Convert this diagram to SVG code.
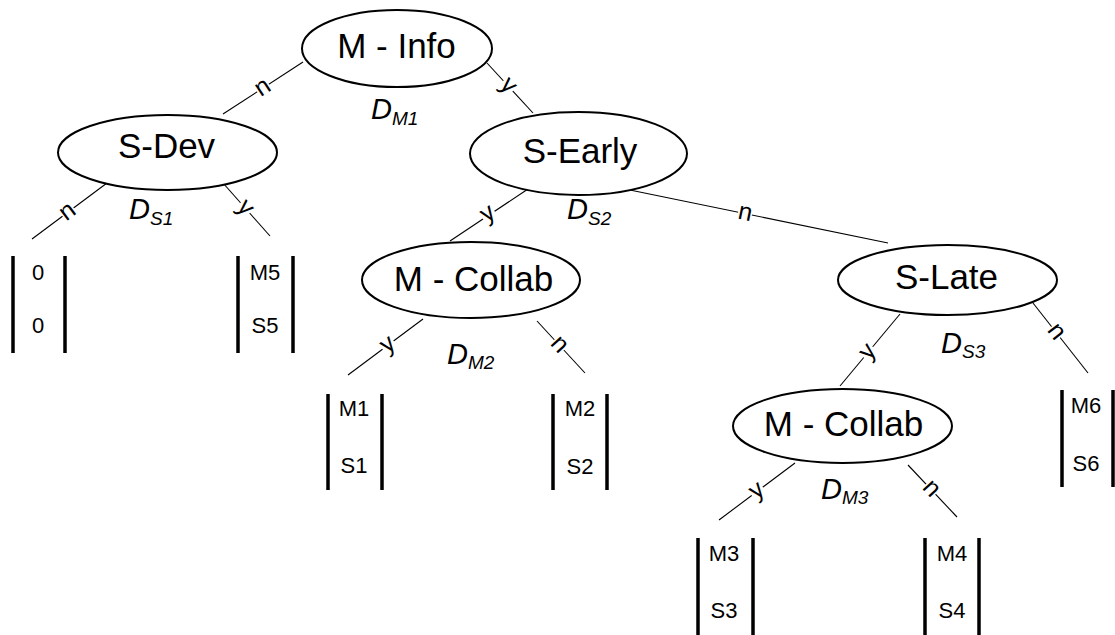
<svg xmlns="http://www.w3.org/2000/svg" width="1115" height="635" viewBox="0 0 1115 635">
<style>
.node ellipse{fill:#fff;stroke:#000;stroke-width:2}
.nt{font-family:"Liberation Sans",Arial,sans-serif;font-size:35px;text-anchor:middle;fill:#000}
.conn line{stroke:#000;stroke-width:1.1}
.el{font-family:"Liberation Sans",Arial,sans-serif;font-size:25px;text-anchor:middle;fill:#000}
.bg{fill:#fff}
.d{font-family:"Liberation Sans",Arial,sans-serif;font-style:italic;font-size:29px;fill:#000}
.d .s{font-size:19px}
.bar{stroke:#000;stroke-width:3.5}
.lt{font-family:"Liberation Sans",Arial,sans-serif;font-size:22px;text-anchor:middle;fill:#000}
</style>
<rect width="1115" height="635" fill="#fff"/>
<g id="connectors" class="conn">
<line x1="303" y1="62" x2="223" y2="114"/>
<line x1="487" y1="63" x2="533" y2="113"/>
<line x1="107" y1="183" x2="32" y2="239"/>
<line x1="223" y1="183" x2="270" y2="236"/>
<line x1="528" y1="189" x2="450" y2="241"/>
<line x1="625" y1="189" x2="888" y2="243"/>
<line x1="900" y1="314" x2="840" y2="386"/>
<line x1="1033" y1="303" x2="1088" y2="373"/>
<line x1="423" y1="319" x2="348" y2="375"/>
<line x1="537" y1="321" x2="585" y2="373"/>
<line x1="795" y1="463" x2="719" y2="520"/>
<line x1="908" y1="465" x2="957" y2="517"/>
</g>
<g id="edge-labels">
<g transform="translate(263,88) rotate(-33)"><rect class="bg" x="-7" y="-8" width="14" height="16"/><text class="el" y="6.5">n</text></g>
<g transform="translate(508,86) rotate(47)"><rect class="bg" x="-7" y="-8" width="14" height="16"/><text class="el" y="6.5">y</text></g>
<g transform="translate(68,212) rotate(-37)"><rect class="bg" x="-7" y="-8" width="14" height="16"/><text class="el" y="6.5">n</text></g>
<g transform="translate(245,208) rotate(48)"><rect class="bg" x="-7" y="-8" width="14" height="16"/><text class="el" y="6.5">y</text></g>
<g transform="translate(488,214) rotate(-34)"><rect class="bg" x="-7" y="-8" width="14" height="16"/><text class="el" y="6.5">y</text></g>
<g transform="translate(745,213.6) rotate(11.6)"><rect class="bg" x="-7" y="-8" width="14" height="16"/><text class="el" y="6.5">n</text></g>
<g transform="translate(868,352) rotate(-50)"><rect class="bg" x="-7" y="-8" width="14" height="16"/><text class="el" y="6.5">y</text></g>
<g transform="translate(1056,332) rotate(52)"><rect class="bg" x="-7" y="-8" width="14" height="16"/><text class="el" y="6.5">n</text></g>
<g transform="translate(388,345) rotate(-37)"><rect class="bg" x="-7" y="-8" width="14" height="16"/><text class="el" y="6.5">y</text></g>
<g transform="translate(559,345) rotate(47)"><rect class="bg" x="-7" y="-8" width="14" height="16"/><text class="el" y="6.5">n</text></g>
<g transform="translate(757,491) rotate(-37)"><rect class="bg" x="-7" y="-8" width="14" height="16"/><text class="el" y="6.5">y</text></g>
<g transform="translate(931,489) rotate(47)"><rect class="bg" x="-7" y="-8" width="14" height="16"/><text class="el" y="6.5">n</text></g>
</g>
<g id="m-info" class="node"><ellipse cx="397" cy="48.5" rx="95" ry="38.5"/><text class="nt" x="396.5" y="58">M - Info</text></g>
<g id="s-dev" class="node"><ellipse cx="167.5" cy="152.5" rx="109.5" ry="37.5"/><text class="nt" x="166.5" y="158">S-Dev</text></g>
<g id="s-early" class="node"><ellipse cx="578.5" cy="153.5" rx="108.5" ry="41.5"/><text class="nt" x="580" y="163">S-Early</text></g>
<g id="m-collab-1" class="node"><ellipse cx="471" cy="280" rx="109" ry="38"/><text class="nt" x="473.5" y="291">M - Collab</text></g>
<g id="s-late" class="node"><ellipse cx="947.5" cy="280" rx="109.5" ry="35"/><text class="nt" x="946.5" y="289">S-Late</text></g>
<g id="m-collab-2" class="node"><ellipse cx="842.5" cy="426" rx="109.5" ry="37"/><text class="nt" x="843.5" y="436">M - Collab</text></g>
<g id="d-labels">
<text class="d" x="371" y="119">D<tspan class="s" dy="6">M1</tspan></text>
<text class="d" x="129" y="219">D<tspan class="s" dy="6">S1</tspan></text>
<text class="d" x="567" y="219">D<tspan class="s" dy="6">S2</tspan></text>
<text class="d" x="447" y="364">D<tspan class="s" dy="5">M2</tspan></text>
<text class="d" x="941" y="353">D<tspan class="s" dy="5">S3</tspan></text>
<text class="d" x="821" y="499">D<tspan class="s" dy="5">M3</tspan></text>
</g>
<g id="leaf-00"><line class="bar" x1="13" y1="256" x2="13" y2="353"/><line class="bar" x1="65" y1="256" x2="65" y2="353"/><text class="lt" x="38" y="280">0</text><text class="lt" x="38" y="333">0</text></g>
<g id="leaf-m5"><line class="bar" x1="238" y1="256" x2="238" y2="353"/><line class="bar" x1="293" y1="256" x2="293" y2="353"/><text class="lt" x="265" y="280">M5</text><text class="lt" x="265" y="333">S5</text></g>
<g id="leaf-m1"><line class="bar" x1="328" y1="394" x2="328" y2="490"/><line class="bar" x1="382" y1="394" x2="382" y2="490"/><text class="lt" x="354" y="416">M1</text><text class="lt" x="354" y="473">S1</text></g>
<g id="leaf-m2"><line class="bar" x1="553" y1="394" x2="553" y2="490"/><line class="bar" x1="607" y1="394" x2="607" y2="490"/><text class="lt" x="580" y="416">M2</text><text class="lt" x="580" y="474">S2</text></g>
<g id="leaf-m6"><line class="bar" x1="1062" y1="390" x2="1062" y2="487"/><line class="bar" x1="1113" y1="390" x2="1113" y2="487"/><text class="lt" x="1086" y="413">M6</text><text class="lt" x="1086" y="471">S6</text></g>
<g id="leaf-m3"><line class="bar" x1="698" y1="538" x2="698" y2="635"/><line class="bar" x1="753" y1="538" x2="753" y2="635"/><text class="lt" x="724" y="561">M3</text><text class="lt" x="724" y="618">S3</text></g>
<g id="leaf-m4"><line class="bar" x1="925" y1="538" x2="925" y2="635"/><line class="bar" x1="979" y1="538" x2="979" y2="635"/><text class="lt" x="952" y="561">M4</text><text class="lt" x="952" y="618">S4</text></g>
</svg>
